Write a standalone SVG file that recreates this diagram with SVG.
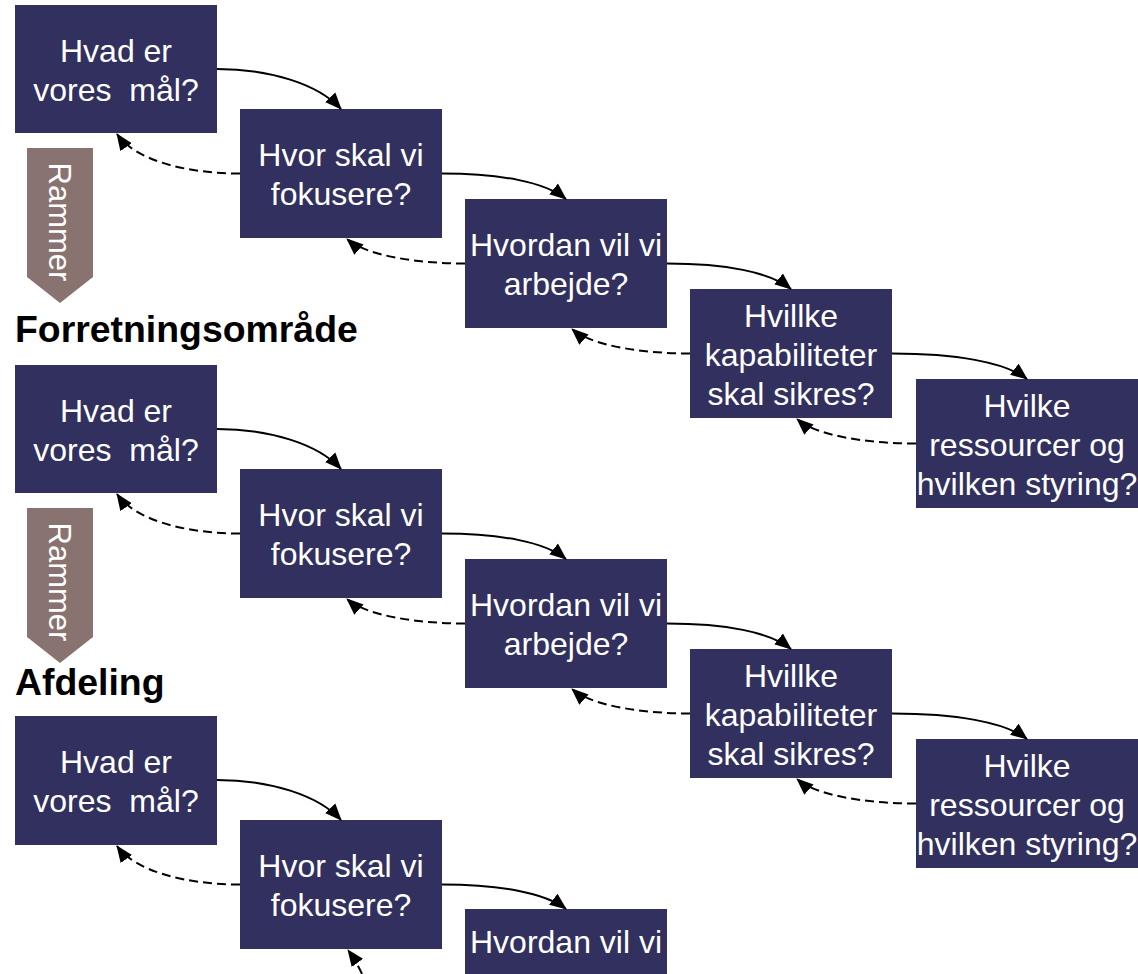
<svg xmlns="http://www.w3.org/2000/svg" width="1138" height="974" viewBox="0 0 1138 974">
<style>
.node rect{fill:#32305f}
.node text{fill:#ffffff;font-family:"Liberation Sans",Arial,sans-serif;font-size:32px;text-anchor:middle;white-space:pre}
.head{fill:#000000;font-family:"Liberation Sans",Arial,sans-serif;font-size:37.4px;font-weight:bold}
.frame polygon{fill:#897371}
.frame text{fill:#ffffff;font-family:"Liberation Sans",Arial,sans-serif;font-size:31px;text-anchor:middle}
.solid{fill:none;stroke:#000000;stroke-width:2;marker-end:url(#ah)}
.dash{fill:none;stroke:#000000;stroke-width:2;stroke-dasharray:9 5;marker-end:url(#ah)}
</style>
<defs>
<marker id="ah" markerUnits="userSpaceOnUse" markerWidth="17" markerHeight="15" viewBox="0 0 17 15" refX="16" refY="7.5" orient="auto">
<path d="M0,0.5 L17,7.5 L0,14.5 z" fill="#000000"/>
</marker>
</defs>
<rect width="1138" height="974" fill="#ffffff"/>

<!-- Block 1 -->
<g id="a1" class="node"><rect x="15" y="5" width="202" height="128"/><text x="116" y="61.5">Hvad er</text><text x="116" y="100.5">vores  mål?</text></g>
<g id="b1" class="node"><rect x="240" y="109" width="202" height="129"/><text x="341" y="166">Hvor skal vi</text><text x="341" y="205">fokusere?</text></g>
<g id="c1" class="node"><rect x="465" y="199" width="202" height="129"/><text x="566" y="256">Hvordan vil vi</text><text x="566" y="295">arbejde?</text></g>
<g id="d1" class="node"><rect x="690" y="289" width="202" height="129"/><text x="791" y="326.5">Hvillke</text><text x="791" y="365.5">kapabiliteter</text><text x="791" y="404.5">skal sikres?</text></g>
<g id="e1" class="node"><rect x="916" y="379" width="222" height="129"/><text x="1027" y="416.5">Hvilke</text><text x="1027" y="455.5">ressourcer og</text><text x="1027" y="494.5">hvilken styring?</text></g>
<g id="rammer1" class="frame"><polygon points="27,148 93,148 93,277 60,303 27,277"/><text transform="translate(49,222) rotate(90)">Rammer</text></g>
<text id="h-forretning" class="head" x="15" y="342">Forretningsområde</text>

<!-- Block 2 -->
<g id="a2" class="node"><rect x="15" y="365" width="202" height="128"/><text x="116" y="421.5">Hvad er</text><text x="116" y="460.5">vores  mål?</text></g>
<g id="b2" class="node"><rect x="240" y="469" width="202" height="129"/><text x="341" y="526">Hvor skal vi</text><text x="341" y="565">fokusere?</text></g>
<g id="c2" class="node"><rect x="465" y="559" width="202" height="129"/><text x="566" y="616">Hvordan vil vi</text><text x="566" y="655">arbejde?</text></g>
<g id="d2" class="node"><rect x="690" y="649" width="202" height="129"/><text x="791" y="686.5">Hvillke</text><text x="791" y="725.5">kapabiliteter</text><text x="791" y="764.5">skal sikres?</text></g>
<g id="e2" class="node"><rect x="916" y="739" width="222" height="129"/><text x="1027" y="776.5">Hvilke</text><text x="1027" y="815.5">ressourcer og</text><text x="1027" y="854.5">hvilken styring?</text></g>
<g id="rammer2" class="frame"><polygon points="27,508 93,508 93,637 60,663 27,637"/><text transform="translate(49,582) rotate(90)">Rammer</text></g>
<text id="h-afdeling" class="head" x="15" y="695">Afdeling</text>

<!-- Block 3 -->
<g id="a3" class="node"><rect x="15" y="716" width="202" height="129"/><text x="116" y="773">Hvad er</text><text x="116" y="812">vores  mål?</text></g>
<g id="b3" class="node"><rect x="240" y="820" width="202" height="129"/><text x="341" y="877">Hvor skal vi</text><text x="341" y="916">fokusere?</text></g>
<g id="c3" class="node"><rect x="465" y="909" width="202" height="65"/><text x="566" y="952.5">Hvordan vil vi</text></g>

<g id="connectors">
<path class="solid" d="M217,69 C270,69 318,84 341,109"/>
<path class="solid" d="M442,173.5 C500,173.5 545,182 566,199"/>
<path class="solid" d="M667,263.5 C725,263.5 770,272 791,289"/>
<path class="solid" d="M892,353.5 C955,353.5 1005,362 1027,379"/>
<path class="dash" d="M240,173.5 C185,173.5 135,160 117,134"/>
<path class="dash" d="M465,263.5 C415,263.5 365,255 347,239"/>
<path class="dash" d="M690,353.5 C640,353.5 590,345 572,329"/>
<path class="dash" d="M916,443.5 C865,443.5 815,435 797,419"/>

<path class="solid" d="M217,429 C270,429 318,444 341,469"/>
<path class="solid" d="M442,533.5 C500,533.5 545,542 566,559"/>
<path class="solid" d="M667,623.5 C725,623.5 770,632 791,649"/>
<path class="solid" d="M892,713.5 C955,713.5 1005,722 1027,739"/>
<path class="dash" d="M240,533.5 C185,533.5 135,520 117,494"/>
<path class="dash" d="M465,623.5 C415,623.5 365,615 347,599"/>
<path class="dash" d="M690,713.5 C640,713.5 590,705 572,689"/>
<path class="dash" d="M916,803.5 C865,803.5 815,795 797,779"/>

<path class="solid" d="M217,780 C270,780 318,795 341,820"/>
<path class="solid" d="M442,884.5 C500,884.5 545,893 566,909"/>
<path class="dash" d="M240,884.5 C185,884.5 135,871 117,846"/>
<path class="dash" d="M362,974 Q356,961 348,950"/>
</g>
</svg>
